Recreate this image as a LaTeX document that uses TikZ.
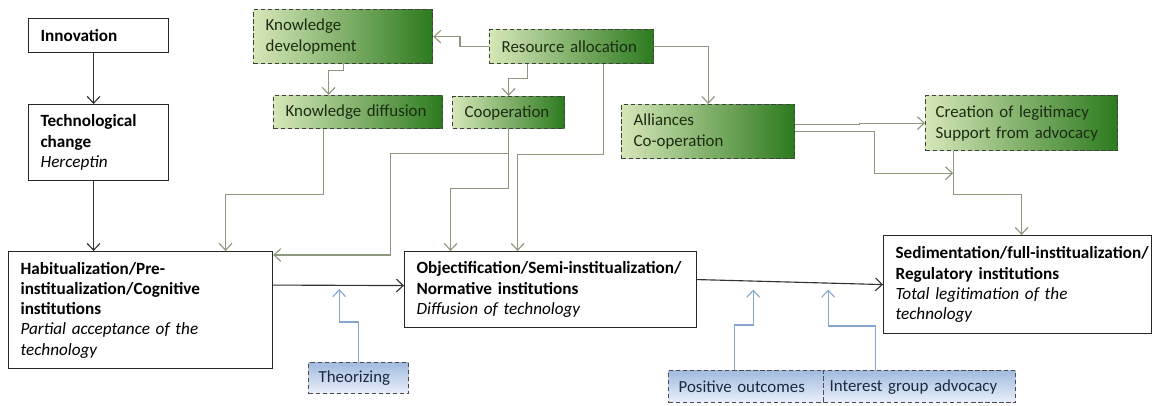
\documentclass[tikz,border=0pt]{standalone}
\usepackage{fontspec}
\setmainfont{Carlito}
\usepackage{tikz}
\usetikzlibrary{arrows.meta,calc}

\definecolor{gLight}{HTML}{D6E7B8}
\definecolor{gDark}{HTML}{2C7A1E}
\definecolor{bTop}{HTML}{A2BBE0}
\definecolor{bBot}{HTML}{EAF0FA}
\definecolor{gLine}{HTML}{8D987C}
\definecolor{bLine}{HTML}{86A6CE}
\definecolor{gText}{HTML}{1B2C12}
\definecolor{bText}{HTML}{1C2A3E}

\newcommand\nohyph{\hyphenpenalty=10000\relax\exhyphenpenalty=10000\relax}
\newcommand\subline[1]{{\mdseries\itshape #1}}

\begin{document}
\begin{tikzpicture}[x=0.025cm,y=-0.025cm]
    \useasboundingbox (0,0) rectangle (1154,406);

    % main stages
    \begin{scope}[every node/.style={draw=black!85,line width=0.8pt,fill=white,
        anchor=north west,align=left,inner xsep=0.3cm,inner ysep=0pt,
        font=\fontsize{12.2}{14.4}\selectfont\bfseries\nohyph}]
      \node[text width=2.9cm,minimum height=0.85cm] (innov) at (28,18) {Innovation};
      \node[text width=2.9cm,minimum height=1.9cm] (techchg) at (28,104)
        {Technological\\change\\\subline{Herceptin}};
      \node[text width=6.0cm,minimum height=2.925cm] (hab) at (8,251)
        {Habitualization/Pre-\\institualization/Cognitive\\institutions\\
         \subline{Partial acceptance of the}\\\subline{technology}};
      \node[text width=6.7cm,minimum height=1.9cm] (obj) at (404,251)
        {Objectification/Semi-institualization/\\Normative institutions\\
         \subline{Diffusion of technology}};
      \node[text width=6.1cm,minimum height=2.45cm] (sed) at (883,235)
        {Sedimentation/full-institualization/\\Regulatory institutions\\
         \subline{Total legitimation of the}\\\subline{technology}};
    \end{scope}

    % green mechanisms
    \begin{scope}[every node/.style={draw=black!75,line width=0.9pt,dash pattern=on 3pt off 2pt,
        left color=gLight,right color=gDark,text=gText,
        anchor=north west,align=left,inner xsep=0.3cm,inner ysep=0pt,
        font=\fontsize{12}{15}\selectfont\nohyph}]
      \node[text width=3.875cm,minimum height=1.35cm] (kdev) at (253,9) {Knowledge\\development};
      \node[text width=3.5cm,minimum height=0.85cm] (resall) at (489,29) {Resource allocation};
      \node[text width=3.625cm,minimum height=0.825cm] (kdiff) at (273,95) {Knowledge diffusion};
      \node[text width=2.2cm,minimum height=0.8cm] (coop) at (452,96) {Cooperation};
      \node[text width=3.725cm,minimum height=1.35cm] (alli) at (621,104) {Alliances\\Co-operation};
      \node[text width=4.3cm,minimum height=1.375cm,inner xsep=0.25cm] (legit) at (925,95)
        {Creation of legitimacy\\Support from advocacy};
    \end{scope}

    % blue mechanisms
    \begin{scope}[every node/.style={draw=black!70,line width=0.9pt,dash pattern=on 3pt off 2pt,
        top color=bTop,bottom color=bBot,text=bText,
        anchor=north west,align=left,inner xsep=0.25cm,inner ysep=0pt,
        font=\fontsize{12}{15}\selectfont}]
      \node[text width=2.0cm,minimum height=0.775cm] (theor) at (308,362) {Theorizing};
      \node[text width=3.375cm,minimum height=0.8cm] (posout) at (668,370) {Positive outcomes};
      \node[text width=4.5cm,minimum height=0.8cm,inner xsep=0.15cm] (intgrp) at (823,370)
        {Interest group advocacy};
    \end{scope}

    \coordinate (junct) at ($(legit.south)+(-68.5,22)$);
    \coordinate (thend) at ($(hab.east)+(66,-21)$);
    \coordinate (poend) at ($(obj.east)+(56,0)$);
    \coordinate (igend) at ($(obj.east)+(131,0)$);

    % main flow
    \begin{scope}[>={Straight Barb[length=1.7mm,width=3.2mm]},line width=0.8pt,draw=black!80]
      \draw[->] ($(innov.south)+(-5,0)$) -- ($(techchg.north)+(-5,0)$);
      \draw[->] ($(techchg.south)+(-5,0)$) coordinate (tc) -- (tc |- hab.north);
      \draw[->] ($(hab.east)+(0,-25)$) -- ($(obj.west)+(0,-4)$);
      \draw[->] ($(obj.east)+(0,-10)$) -- (sed.west);
    \end{scope}

    % green links
    \begin{scope}[>={Straight Barb[length=1.7mm,width=3.2mm]},line width=0.8pt,draw=gLine]
      \draw[->] (resall.west) -- ++(-29,0) |- (kdev.east);
      \draw[->] ($(resall.south)+(-44,0)$) -- ++(0,14) -| (coop.north);
      \draw[->] (resall.east) -| (alli.north);
      \draw[->] ($(resall.south)+(32,0)$) -- ++(0,90) -| ($(obj.north)+(-33,0)$);
      \draw[->] (kdev.south) -- ++(0,6) -| ($(kdiff.north)+(-29.5,0)$);
      \draw[->] ($(kdiff.south)+(-34.5,0)$) -- ++(0,65) -| ($(hab.north)+(85,0)$);
      \draw[->] (coop.south) -- ++(0,24) -- ++(-118,0) |- ($(hab.north east)+(0,4)$);
      \draw[->] (coop.south) -- ++(0,59) -| ($(obj.north)+(-100,0)$);
      \draw[->] ($(alli.east)+(0,-7)$) -- ++(64,0) |- (legit.west);
      \draw[->] (alli.east) -- ++(79,0) |- (junct);
      \draw[->] ($(legit.south)+(-68.5,0)$) -- ++(0,43) -| ($(sed.north)+(4,0)$);
    \end{scope}

    % blue links
    \begin{scope}[>={Straight Barb[length=1.7mm,width=3.2mm]},line width=0.8pt,draw=bLine]
      \draw[->] (theor.north) -- ++(0,-40) -| (thend);
      \draw[->] ($(posout.north)+(-11.5,0)$) -- ++(0,-45) -| (poend);
      \draw[->] ($(intgrp.north)+(-44,0)$) -- ++(0,-44) -| (igend);
    \end{scope}
\end{tikzpicture}
\end{document}
